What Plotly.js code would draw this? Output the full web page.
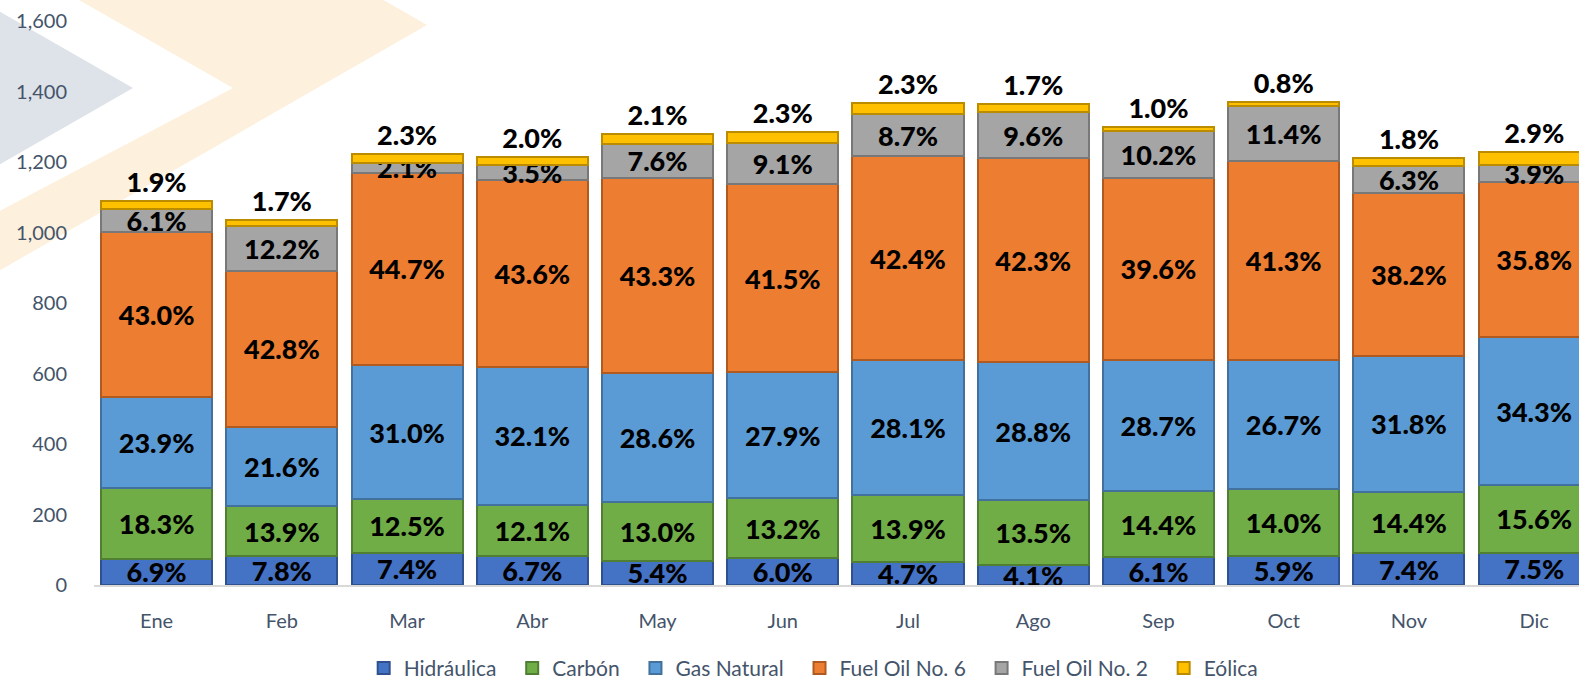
<!DOCTYPE html>
<html>
<head>
<meta charset="utf-8">
<script src="https://cdn.plot.ly/plotly-3.0.1.min.js"></script>
<style>html,body{margin:0;padding:0;background:#fff;}#chart{width:1579px;height:681px;}</style>
</head>
<body>
<div id="chart"></div>
<script>
// ---- data (GWh) ----
var months = ["Ene","Feb","Mar","Abr","May","Jun","Jul","Ago","Sep","Oct","Nov","Dic"];
var hidraulica = [75, 81, 91, 81, 69, 77, 64, 56, 79, 81, 90, 92];
var carbon     = [199, 144, 153, 147, 166, 169, 190, 184, 187, 192, 175, 191];
var gasNatural = [260, 224, 379, 390, 366, 358, 384, 393, 373, 366, 385, 421];
var fuelOil6   = [468, 443, 547, 530, 554, 533, 579, 577, 515, 565, 463, 439];
var fuelOil2   = [66, 126, 26, 43, 97, 117, 119, 131, 133, 156, 76, 48];
var eolica     = [21, 18, 28, 24, 27, 30, 31, 23, 13, 11, 22, 36];

// ---- percentage labels ----
var pctHidraulica = [6.9, 7.8, 7.4, 6.7, 5.4, 6.0, 4.7, 4.1, 6.1, 5.9, 7.4, 7.5];
var pctCarbon     = [18.3, 13.9, 12.5, 12.1, 13.0, 13.2, 13.9, 13.5, 14.4, 14.0, 14.4, 15.6];
var pctGas        = [23.9, 21.6, 31.0, 32.1, 28.6, 27.9, 28.1, 28.8, 28.7, 26.7, 31.8, 34.3];
var pctFuel6      = [43.0, 42.8, 44.7, 43.6, 43.3, 41.5, 42.4, 42.3, 39.6, 41.3, 38.2, 35.8];
var pctFuel2      = [6.1, 12.2, 2.1, 3.5, 7.6, 9.1, 8.7, 9.6, 10.2, 11.4, 6.3, 3.9];
var pctEolica     = [1.9, 1.7, 2.3, 2.0, 2.1, 2.3, 2.3, 1.7, 1.0, 0.8, 1.8, 2.9];

function fmt(a){ return a.map(function(v){ return v.toFixed(1) + "%"; }); }

var labelFont = {family: "Lato, 'Open Sans', sans-serif", size: 27, color: "#000000", weight: 900};
var pad = "\u00a0\u00a0";

function series(name, y, pct, color, border, pos){
  return {
    type: "bar", name: name + pad, x: months, y: y,
    text: fmt(pct), textposition: pos, textangle: 0,
    insidetextanchor: "middle", constraintext: "none",
    textfont: labelFont, insidetextfont: labelFont, outsidetextfont: labelFont,
    cliponaxis: false,
    marker: {color: color, line: {color: border, width: 2}},
    hoverinfo: "skip"
  };
}

var data = [
  series("Hidráulica", hidraulica, pctHidraulica, "#4472C4", "#2F528F", "inside"),
  series("Carbón", carbon, pctCarbon, "#70AD47", "#507E32", "inside"),
  series("Gas Natural", gasNatural, pctGas, "#5B9BD5", "#41719C", "inside"),
  series("Fuel Oil No. 6", fuelOil6, pctFuel6, "#ED7D31", "#AE5A21", "inside"),
  series("Fuel Oil No. 2", fuelOil2, pctFuel2, "#A5A5A5", "#787878", "inside"),
  series("Eólica", eolica, pctEolica, "#FFC000", "#BC8C00", "outside")
];

// plot area in pixels
var L = 94, R = 0, T = 21, B = 96, W = 1579 - L - R, H = 681 - T - B;
function px(x){ return ((x - L) / W).toFixed(5); }
function py(y){ return ((681 - B - y) / H).toFixed(5); }
function path(pts){
  return "M" + pts.map(function(p){ return px(p[0]) + "," + py(p[1]); }).join(" L") + " Z";
}

var shapes = [
  {type: "path", xref: "paper", yref: "paper", layer: "below", line: {width: 0},
   fillcolor: "#DEE2E9",
   path: path([[-10, 6], [133, 88], [-10, 170]])},
  {type: "path", xref: "paper", yref: "paper", layer: "below", line: {width: 0},
   fillcolor: "#FDF0DD",
   path: path([[340, -25], [427, 25], [-10, 276], [-10, 216], [233, 88], [58, -12]])}
];

var layout = {
  width: 1579, height: 681,
  margin: {l: L, r: R, t: T, b: B, pad: 0, autoexpand: false},
  paper_bgcolor: "rgba(0,0,0,0)", plot_bgcolor: "rgba(0,0,0,0)",
  barmode: "stack", bargap: 0.113,
  showlegend: true,
  font: {family: "Lato, 'Open Sans', sans-serif", color: "#44546A"},
  xaxis: {
    type: "category", range: [-0.5, 11.358],
    showgrid: false, zeroline: false,
    showline: true, linecolor: "#D9D9D9", linewidth: 1.5,
    ticks: "", ticklabelstandoff: 17,
    tickfont: {size: 20, color: "#44546A"}
  },
  yaxis: {
    range: [0, 1600], dtick: 200, tickformat: ",d",
    showgrid: false, zeroline: false, showline: false,
    ticks: "", ticklabelstandoff: 26,
    tickfont: {size: 20, color: "#44546A"}
  },
  legend: {
    orientation: "h", x: 0.488, xanchor: "center", y: -0.148, yanchor: "middle",
    font: {size: 21, color: "#44546A"}, traceorder: "normal",
    itemwidth: 30, bgcolor: "rgba(0,0,0,0)"
  },
  shapes: shapes
};

Plotly.newPlot("chart", data, layout, {displayModeBar: false, staticPlot: true});
</script>
</body>
</html>
